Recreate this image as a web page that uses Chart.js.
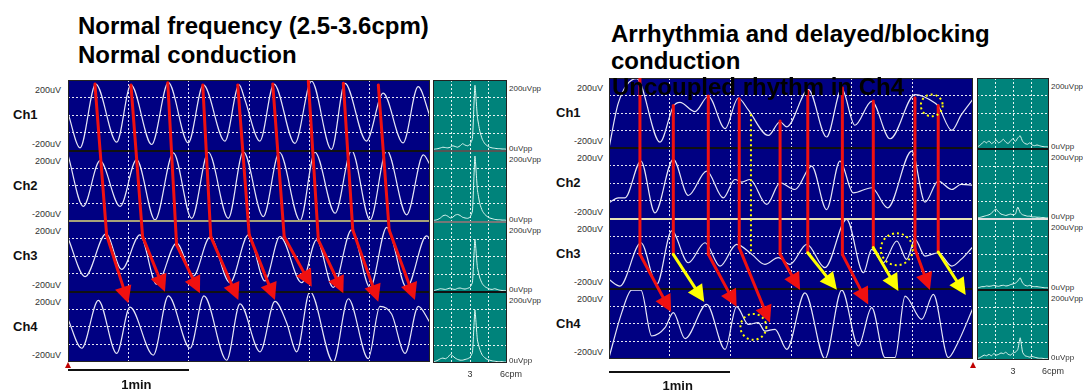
<!DOCTYPE html>
<html>
<head>
<meta charset="utf-8">
<script src="https://cdn.jsdelivr.net/npm/chart.js@4.4.0/dist/chart.umd.min.js"></script>
<style>
  body { margin: 0; width: 1083px; height: 391px; overflow: hidden; position: relative; background: #fff;
         font-family: "Liberation Sans", Arial, sans-serif; }
  canvas { position: absolute; }
  .t { position: absolute; white-space: nowrap; z-index: 5; }
  .title { font-weight: bold; font-size: 24px; line-height: 24px; color: #000; }
  .ch { font-weight: bold; font-size: 13px; line-height: 13px; color: #111; }
  .uv { font-size: 9px; line-height: 9px; color: #333; }
  .pp { font-size: 8px; line-height: 8px; color: #333; }
  .min { font-weight: bold; font-size: 13px; line-height: 13px; color: #111; }
  .bar { position: absolute; height: 2px; background: #111; }
  .tri { position: absolute; width: 0; height: 0; border-left: 3px solid transparent; border-right: 3px solid transparent; border-bottom: 6px solid #c00000; }
</style>
</head>
<body>
<script>
// --- données (temps en s, amplitude en uV) ---
const chNames = ['Ch1', 'Ch2', 'Ch3', 'Ch4'];

const leftCh1 = [[0,12],[6,-185],[13.8,177],[24.2,-153],[31.3,172],[41.6,-166],[49.9,185],[59.8,-157],[67.3,172],[78,-147],[85.1,172],[88,87],[95.4,-147],[102.4,177],[112.8,-160],[121.1,194],[131,-194],[137.7,181],[148.4,-147],[156.7,125],[166.6,-157],[174.1,162],[180,-6]];
const leftCh2 = [[0,175],[7.6,-117],[15.9,142],[25.9,-117],[34.1,148],[43.3,-194],[52.4,187],[61.5,-185],[69.8,190],[79.7,-185],[87.2,194],[97.1,-175],[105.1,190],[115.4,-198],[122.8,190],[132.8,-156],[141,200],[150.2,-194],[158.5,200],[168.4,-165],[176.7,175],[180,120]];
const leftCh3 = [[0,103],[8.5,-116],[18.9,127],[26.7,-75],[35.8,121],[44.1,-159],[54,75],[62.3,-112],[70.6,108],[80.5,-150],[89.7,121],[97.9,-140],[105.4,112],[116.2,-150],[123.6,93],[131.9,-177],[141,150],[150.2,-177],[158.5,164],[168.4,-177],[178.3,116],[180,100]];
const leftCh4 = [[0,43],[6.8,-122],[15.1,150],[24.2,-151],[30.8,111],[42.4,-161],[49.9,175],[60.7,-122],[67.6,175],[78.9,-190],[85.5,130],[95.5,-142],[102.9,144],[108.7,23],[113.7,-142],[120.3,200],[131.9,-200],[139.4,159],[149.3,-181],[155.1,116],[160.9,72],[167.6,-151],[174.2,116],[180,23]];

const rightCh1 = [[0,-198],[4.6,57],[13.7,196],[25.2,-165],[31.8,38],[35.1,61],[42.5,9],[49.1,96],[57.4,-88],[63.9,86],[68.9,18],[78.8,-127],[84.6,-49],[87.9,-78],[98.6,134],[107.6,-136],[115.1,138],[121.6,-69],[129.9,67],[139,-146],[151.3,105],[161.2,57],[162.9,38],[169.5,-98],[174.1,-11],[180,80]];
const rightCh2 = [[0,-111],[4.6,-82],[7.9,-82],[15.8,127],[22.7,-168],[31.8,137],[39.2,-69],[48.3,70],[56.5,-82],[62.3,22],[65.6,7],[69.7,22],[78,-120],[84.6,3],[92,-35],[100.2,98],[107.6,-149],[114.2,127],[120.8,-54],[129.9,-25],[137.8,-139],[149.7,184],[156.3,-107],[162.8,13],[169.5,-35],[174.1,-6],[180,-10]];
const rightCh3 = [[0,-147],[5.4,-185],[15.8,62],[23.6,-175],[31,129],[39.2,-52],[47.5,62],[54.9,-71],[63.1,53],[70.6,-4],[77.1,-61],[83.7,-23],[89.5,-61],[97.8,53],[106.8,-80],[117.5,195],[125.8,-109],[129.9,24],[135.6,-52],[142.3,72],[147.2,-33],[151.3,81],[156.3,-14],[162.8,5],[169.5,-71],[174.1,-33],[180,40]];
const rightCh4 = [[0,-192],[6.3,64],[11.2,192],[15.8,192],[21.1,-69],[27.7,-22],[31.8,64],[37.6,-84],[48.3,111],[57.4,-145],[63.1,98],[68.9,-3],[73.8,7],[77.1,-41],[82.1,-31],[87.9,-145],[96.9,177],[106.8,-198],[115.1,192],[123.3,-126],[129.9,92],[136.5,-192],[141.4,-192],[146.4,158],[154.6,26],[160.4,168],[167.8,-192],[172.1,-117],[180,90]];

// spectres (cpm, uVpp)
const specX = [0,0.2,0.4,0.6,0.8,1.0,1.2,1.4,1.6,1.8,2.0,2.2,2.4,2.6,2.8,3.0,3.2,3.4,3.6,3.8,4.0,4.2,4.4,4.6,4.8,5.0,5.2,5.4,5.6,5.8,6.0];
const leftSpec1 = [4,5,6,8,10,9,8,10,14,12,10,14,20,16,14,18,35,185,95,55,32,20,14,10,8,7,6,6,5,5,4];
const leftSpec2 = [3,4,6,10,16,18,15,10,12,18,20,17,12,10,9,12,30,185,90,50,30,20,14,10,8,6,5,5,4,4,3];
const leftSpec3 = [4,6,8,10,9,8,10,12,9,8,11,12,10,9,11,14,28,150,70,40,24,16,12,9,8,10,8,6,5,5,4];
const leftSpec4 = [3,5,8,12,14,12,16,24,20,14,10,8,8,10,12,16,30,150,65,38,22,15,10,8,6,5,4,4,4,3,3];
const rightSpec1 = [4,8,14,20,16,22,14,18,24,16,20,26,18,14,22,28,20,30,36,20,14,12,16,10,8,10,8,6,5,5,4];
const rightSpec2 = [3,4,6,8,10,12,16,24,28,20,14,12,10,12,14,12,14,34,18,12,10,8,8,6,6,5,5,4,4,3,3];
const rightSpec3 = [4,6,8,8,10,9,10,12,10,9,11,12,10,11,14,16,18,24,33,18,12,10,12,9,8,8,7,6,5,5,4];
const rightSpec4 = [4,6,10,14,12,16,12,18,14,16,20,18,22,16,14,20,22,30,63,22,12,10,8,10,8,6,5,5,4,4,3];
const specTickValues = [3, 6];
const specTickLabels = ['3', '6cpm'];

// flèches : [t Ch1, uV Ch1, t Ch3, uV Ch3, t Ch4, uV Ch4, couleur du trait oblique]
const leftArrows = [
    [13.4,177, 19.2,121, 30.0,133, 'red'],
    [31.3,172, 37.1,111, 48.2,199, 'red'],
    [49.6,185, 54.0,64, 65.6,190, 'red'],
    [67.0,172, 71.0,111, 84.7,152, 'red'],
    [84.4,172, 90.1,121, 102.9,152, 'red'],
    [101.8,177, 107.5,111, 121.2,227, 'red'],
    [119.5,194, 124.5,92, 136.9,190, 'red'],
    [136.9,181, 141.6,149, 154.3,142, 'red'],
    [154.3,172, 159.7,149, 172.5,152, 'red']
];
const rightArrows = [
    [15.3,200, 15.3,-4, 30.7,67, 'red'],
    [31.8,44, 31.8,-4, 47.1,124, 'yellow'],
    [49.1,97, 49.1,-4, 63.1,97, 'red'],
    [64.4,82, 64.4,34, 79.6,6, 'red'],
    [84.6,-45, 84.6,-4, 94.5,193, 'red'],
    [98.3,126, 98.3,5, 112.7,195, 'yellow'],
    [115.4,145, 115.4,-4, 128.2,111, 'red'],
    [130.7,69, 130.7,34, 143.1,187, 'yellow'],
    [151.3,88, 151.3,26, 158.7,193, 'red'],
    [162.8,44, 162.8,9, 176.4,164, 'yellow']
];
// ligne pointillée jaune : [t, uV Ch1, uV Ch3]
const rightDotted = [[70.2, -7, -4]];
// cercles pointillés : [t, canal, uV, rayon en s]
const rightCircles = [[159.6, 1, 44, 5.4], [142.3, 3, 25, 7.9], [71.4, 4, -17, 6.4]];

const COLORS = { red: '#f01010', yellow: '#ffff00' };

// --- helpers ---
const waveCenter = ch => (4 - ch) * 400;   // Ch1 = 1200 ... Ch4 = 0
const specBase = ch => (4 - ch) * 200;

function makeCanvas(left, top, w, h) {
    const c = document.createElement('canvas');
    c.width = w; c.height = h;
    c.style.left = left + 'px'; c.style.top = top + 'px';
    document.body.appendChild(c);
    return c;
}

function addText(txt, x, y, cls, align) {
    const d = document.createElement('div');
    d.className = 't ' + cls;
    d.textContent = txt;
    d.style.left = x + 'px';
    d.style.top = y + 'px';
    const tx = align === 'right' ? '-100%' : align === 'center' ? '-50%' : '0';
    d.style.transform = 'translate(' + tx + ', -50%)';
    document.body.appendChild(d);
}

function arrowHead(ctx, x0, y0, x1, y1, color) {
    const a = Math.atan2(y1 - y0, x1 - x0);
    const len = 17, half = 8.5;
    ctx.fillStyle = color;
    ctx.beginPath();
    ctx.moveTo(x1, y1);
    ctx.lineTo(x1 - len * Math.cos(a) + half * Math.sin(a), y1 - len * Math.sin(a) - half * Math.cos(a));
    ctx.lineTo(x1 - len * Math.cos(a) - half * Math.sin(a), y1 - len * Math.sin(a) + half * Math.cos(a));
    ctx.closePath();
    ctx.fill();
}

function panelPlugin(bg, seps, marks) {
    return {
        id: 'panel',
        beforeDraw(chart) {
            const { ctx, chartArea: a } = chart;
            ctx.save();
            ctx.fillStyle = bg;
            ctx.fillRect(a.left, a.top, a.width, a.height);
            ctx.restore();
        },
        afterDatasetsDraw(chart) {
            const { ctx, chartArea: a, scales: { x, y } } = chart;
            ctx.save();
            seps.forEach(s => {
                const py = Math.round(y.getPixelForValue(s.v));
                ctx.strokeStyle = s.c;
                ctx.lineWidth = 2;
                ctx.beginPath();
                ctx.moveTo(a.left, py);
                ctx.lineTo(a.right, py);
                ctx.stroke();
            });
            ctx.strokeStyle = '#222';
            ctx.lineWidth = 1;
            ctx.strokeRect(a.left + 0.5, a.top + 0.5, a.width - 1, a.height - 1);

            if (marks) {
                const P = (t, ch, v) => [x.getPixelForValue(t), y.getPixelForValue(waveCenter(ch) + v)];
                ctx.lineCap = 'round';
                (marks.arrows || []).forEach(r => {
                    const p1 = P(r[0], 1, r[1]), p3 = P(r[2], 3, r[3]), p4 = P(r[4], 4, r[5]);
                    ctx.strokeStyle = COLORS.red;
                    ctx.lineWidth = 3;
                    ctx.beginPath();
                    ctx.moveTo(p1[0], p1[1]);
                    ctx.lineTo(p3[0], p3[1]);
                    ctx.stroke();
                    const col = COLORS[r[6]];
                    const a2 = Math.atan2(p4[1] - p3[1], p4[0] - p3[0]);
                    ctx.strokeStyle = col;
                    ctx.beginPath();
                    ctx.moveTo(p3[0], p3[1]);
                    ctx.lineTo(p4[0] - 13 * Math.cos(a2), p4[1] - 13 * Math.sin(a2));
                    ctx.stroke();
                    arrowHead(ctx, p3[0], p3[1], p4[0], p4[1], col);
                });
                ctx.lineCap = 'butt';
                ctx.setLineDash([2, 3]);
                ctx.strokeStyle = COLORS.yellow;
                ctx.lineWidth = 2;
                (marks.dotted || []).forEach(r => {
                    const p1 = P(r[0], 1, r[1]), p3 = P(r[0], 3, r[2]);
                    ctx.beginPath();
                    ctx.moveTo(p1[0], p1[1]);
                    ctx.lineTo(p3[0], p3[1]);
                    ctx.stroke();
                });
                (marks.circles || []).forEach(r => {
                    const c = P(r[0], r[1], r[2]);
                    const rad = x.getPixelForValue(r[0] + r[3]) - c[0];
                    ctx.beginPath();
                    ctx.arc(c[0], c[1], rad, 0, Math.PI * 2);
                    ctx.stroke();
                });
            }
            ctx.restore();
        }
    };
}

function gridColor(edges) {
    return c => edges.includes(c.tick.value) ? 'rgba(0,0,0,0)' : 'rgba(255,255,255,0.9)';
}

function waveChart(left, top, w, h, channels, seps, marks) {
    const canvas = makeCanvas(left, top, w, h);
    const datasets = channels.map((pts, i) => ({
        data: pts.map(p => ({ x: p[0], y: waveCenter(i + 1) + p[1] })),
        borderColor: '#e6e6f6',
        borderWidth: 1.2,
        pointRadius: 0,
        cubicInterpolationMode: 'monotone',
        fill: false
    }));
    return new Chart(canvas, {
        type: 'line',
        data: { datasets: datasets },
        options: {
            responsive: false,
            animation: false,
            devicePixelRatio: 1,
            layout: { padding: 0 },
            plugins: { legend: { display: false }, tooltip: { enabled: false } },
            scales: {
                x: {
                    type: 'linear', min: 0, max: 180,
                    ticks: { display: false, stepSize: 30 },
                    grid: { drawTicks: false, color: gridColor([0, 180]), lineWidth: 1 },
                    border: { display: false, dash: [2, 2] }
                },
                y: {
                    min: -200, max: 1400,
                    ticks: { display: false, stepSize: 100 },
                    grid: { drawTicks: false, color: gridColor([-200, 200, 600, 1000, 1400]), lineWidth: 1 },
                    border: { display: false, dash: [2, 2] }
                }
            }
        },
        plugins: [panelPlugin('#000082', seps, marks)]
    });
}

function specChart(left, top, w, h, specs, seps) {
    const canvas = makeCanvas(left, top, w, h);
    const datasets = specs.map((vals, i) => ({
        data: vals.map((v, k) => ({ x: specX[k], y: specBase(i + 1) + v })),
        borderColor: '#dcf6f0',
        borderWidth: 1,
        pointRadius: 0,
        tension: 0.15,
        fill: false
    }));
    return new Chart(canvas, {
        type: 'line',
        data: { datasets: datasets },
        options: {
            responsive: false,
            animation: false,
            devicePixelRatio: 1,
            layout: { padding: 0 },
            plugins: { legend: { display: false }, tooltip: { enabled: false } },
            scales: {
                x: {
                    type: 'linear', min: 0, max: 6,
                    ticks: { display: false, stepSize: 1.5 },
                    grid: { drawTicks: false, color: gridColor([0, 6]), lineWidth: 1 },
                    border: { display: false, dash: [2, 2] }
                },
                y: {
                    min: 0, max: 800,
                    ticks: { display: false, stepSize: 50 },
                    grid: { drawTicks: false, color: gridColor([0, 200, 400, 600, 800]), lineWidth: 1 },
                    border: { display: false, dash: [2, 2] }
                }
            }
        },
        plugins: [panelPlugin('#00837b', seps, null)]
    });
}

// --- panneaux ---
const L = { x: 68, y: 80, w: 362, h: 282 };
const R = { x: 609, y: 78, w: 364, h: 281 };
const LS = { x: 433, y: 80, w: 74, h: 283 };
const RS = { x: 977, y: 78, w: 72, h: 282 };

const leftWave = waveChart(L.x, L.y, L.w, L.h, [leftCh1, leftCh2, leftCh3, leftCh4],
    [{ v: 1000, c: '#111' }, { v: 600, c: '#a8a27a' }, { v: 200, c: '#111' }],
    { arrows: leftArrows });
const rightWave = waveChart(R.x, R.y, R.w, R.h, [rightCh1, rightCh2, rightCh3, rightCh4],
    [{ v: 1000, c: '#111' }, { v: 600, c: '#e6e2b8' }, { v: 200, c: '#111' }],
    { arrows: rightArrows, dotted: rightDotted, circles: rightCircles });
const leftSpec = specChart(LS.x, LS.y, LS.w, LS.h, [leftSpec1, leftSpec2, leftSpec3, leftSpec4],
    [{ v: 600, c: '#555' }, { v: 400, c: '#777' }, { v: 200, c: '#111' }]);
const rightSpec = specChart(RS.x, RS.y, RS.w, RS.h, [rightSpec1, rightSpec2, rightSpec3, rightSpec4],
    [{ v: 600, c: '#111' }, { v: 400, c: '#e0e0e0' }, { v: 200, c: '#111' }]);

// --- textes ---
function waveLabels(chart, box, chX, uvX) {
    const y = chart.scales.y;
    chNames.forEach((n, i) => {
        const c = waveCenter(i + 1);
        addText(n, chX, box.y + y.getPixelForValue(c) - 1, 'ch', 'left');
        addText('200uV', uvX, box.y + y.getPixelForValue(c + 200) + 10, 'uv', 'right');
        addText('-200uV', uvX, box.y + y.getPixelForValue(c - 200) - 7, 'uv', 'right');
    });
}
function specLabels(chart, box, lx) {
    const { x, y } = chart.scales;
    chNames.forEach((n, i) => {
        const b = specBase(i + 1);
        addText('200uVpp', lx, box.y + y.getPixelForValue(b + 200) + 9, 'pp', 'left');
        addText('0uVpp', lx, box.y + y.getPixelForValue(b) - 2, 'pp', 'left');
    });
    addText(specTickLabels[0], box.x + x.getPixelForValue(specTickValues[0]), box.y + box.h + 11, 'uv', 'center');
    addText(specTickLabels[1], box.x + x.getPixelForValue(specTickValues[1]) - 7, box.y + box.h + 11, 'uv', 'left');
}
waveLabels(leftWave, L, 13, 61);
waveLabels(rightWave, R, 556, 603);
specLabels(leftSpec, LS, 509);
specLabels(rightSpec, RS, 1051);

addText('Normal frequency (2.5-3.6cpm)', 78, 26, 'title', 'left');
addText('Normal conduction', 78, 55, 'title', 'left');
addText('Arrhythmia and delayed/blocking', 611, 34, 'title', 'left');
addText('conduction', 611, 61, 'title', 'left');
addText('Uncoupled rhythm in Ch4', 612, 87, 'title', 'left');

// barres d'échelle 1 min
function scaleBar(chart, box, top, textY) {
    const x = chart.scales.x;
    const x0 = box.x + x.getPixelForValue(0), x1 = box.x + x.getPixelForValue(60);
    const d = document.createElement('div');
    d.className = 'bar';
    d.style.left = x0 + 'px'; d.style.top = top + 'px'; d.style.width = (x1 - x0) + 'px';
    document.body.appendChild(d);
    addText('1min', (x0 + x1) / 2 + 8, textY, 'min', 'center');
}
scaleBar(leftWave, L, 369, 384);
scaleBar(rightWave, R, 371, 385);
[[65, 362], [970, 362]].forEach(p => {
    const tri = document.createElement('div');
    tri.className = 'tri';
    tri.style.left = p[0] + 'px'; tri.style.top = p[1] + 'px';
    document.body.appendChild(tri);
});
</script>
</body>
</html>
